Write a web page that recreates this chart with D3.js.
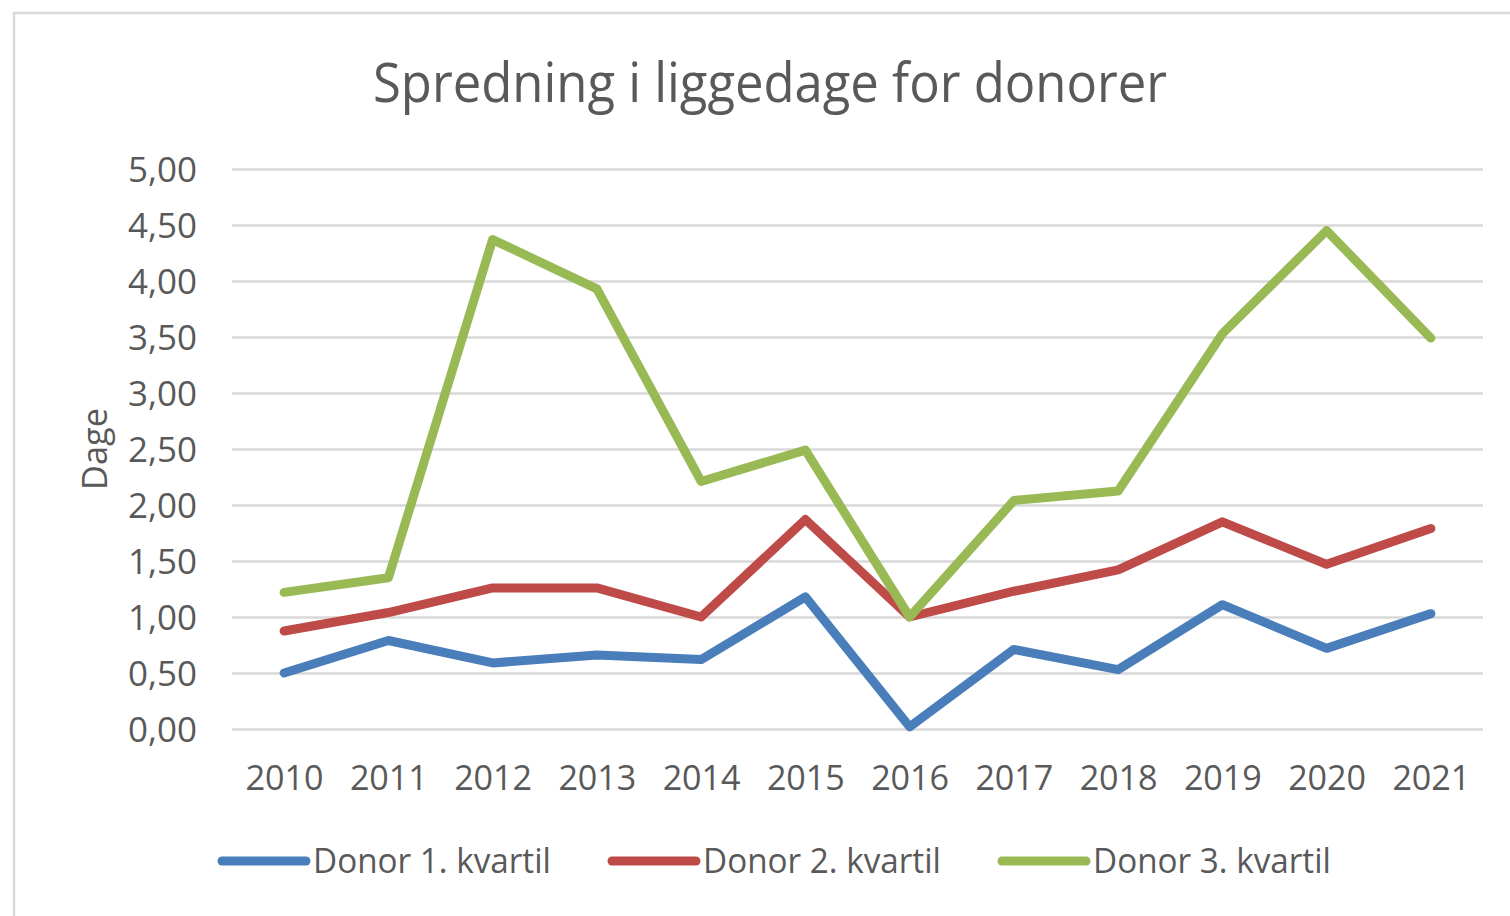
<!DOCTYPE html>
<html>
<head>
<meta charset="utf-8">
<script src="https://cdn.jsdelivr.net/npm/d3@7"></script>
<style>
  html, body { margin: 0; padding: 0; background: #fff; }
  svg { display: block; }
  text { font-family: "Open Sans", "Noto Sans", sans-serif; fill: #595959; }
</style>
</head>
<body>
<div id="chart"></div>
<script>
const years = [2010, 2011, 2012, 2013, 2014, 2015, 2016, 2017, 2018, 2019, 2020, 2021];
const donorQ1 = [0.50, 0.79, 0.59, 0.66, 0.62, 1.18, 0.02, 0.71, 0.53, 1.11, 0.72, 1.03];
const donorQ2 = [0.875, 1.04, 1.26, 1.26, 1.00, 1.87, 1.00, 1.23, 1.42, 1.85, 1.47, 1.79];
const donorQ3 = [1.22, 1.35, 4.37, 3.93, 2.21, 2.49, 1.00, 2.04, 2.125, 3.53, 4.45, 3.49];
const seriesNames = ['Donor 1. kvartil', 'Donor 2. kvartil', 'Donor 3. kvartil'];
const yTicks = [0, 0.5, 1, 1.5, 2, 2.5, 3, 3.5, 4, 4.5, 5];

const width = 1510;
const height = 916;
const plot = { left: 232, right: 1483, top: 169, bottom: 729 };
const colors = ['#4a7ebb', '#be4b48', '#98b954'];

const svg = d3.select('#chart').append('svg')
    .attr('width', width)
    .attr('height', height);

// chart frame (right and bottom edges fall outside the picture)
svg.append('rect')
    .attr('x', 14)
    .attr('y', 13)
    .attr('width', 1520)
    .attr('height', 940)
    .style('fill', '#fff')
    .style('stroke', '#d9d9d9')
    .style('stroke-width', 2.5);

const x = d3.scalePoint()
    .domain(years)
    .range([plot.left, plot.right])
    .padding(0.5);

const y = d3.scaleLinear()
    .domain([0, 5])
    .range([plot.bottom, plot.top]);

// gridlines + y labels
const yAxis = svg.append('g')
    .attr('transform', 'translate(' + plot.left + ',0)')
    .call(d3.axisLeft(y)
        .tickValues(yTicks)
        .tickSize(-(plot.right - plot.left))
        .tickPadding(35)
        .tickFormat(d => d.toFixed(2).replace('.', ',')));
yAxis.select('.domain').remove();
yAxis.selectAll('.tick line')
    .style('stroke', '#d9d9d9')
    .style('stroke-width', 2.5);
yAxis.selectAll('.tick text')
    .attr('dy', null)
    .attr('y', 12)
    .attr('x', -35)
    .attr('textLength', 69)
    .attr('lengthAdjust', 'spacingAndGlyphs')
    .style('font-size', '34px')
    .style('fill', '#595959');

// x labels
const xAxis = svg.append('g')
    .attr('transform', 'translate(0,' + plot.bottom + ')')
    .call(d3.axisBottom(x).tickSize(0).tickPadding(0));
xAxis.select('.domain').remove();
xAxis.selectAll('.tick text')
    .attr('dy', null)
    .attr('y', 61)
    .attr('textLength', 78)
    .attr('lengthAdjust', 'spacingAndGlyphs')
    .style('font-size', '35px')
    .style('fill', '#595959');

// title
svg.append('text')
    .attr('x', 770)
    .attr('y', 102)
    .attr('text-anchor', 'middle')
    .attr('textLength', 794)
    .attr('lengthAdjust', 'spacingAndGlyphs')
    .style('font-size', '55px')
    .text('Spredning i liggedage for donorer');

// axis title
svg.append('text')
    .attr('transform', 'translate(107,449) rotate(-90)')
    .attr('text-anchor', 'middle')
    .attr('textLength', 82)
    .attr('lengthAdjust', 'spacingAndGlyphs')
    .style('font-size', '35px')
    .text('Dage');

// lines
const line = d3.line()
    .x((d, i) => x(years[i]))
    .y(d => y(d));

[donorQ1, donorQ2, donorQ3].forEach((values, idx) => {
    svg.append('path')
        .datum(values)
        .attr('d', line)
        .style('fill', 'none')
        .style('stroke', colors[idx])
        .style('stroke-width', 9)
        .style('stroke-linejoin', 'round')
        .style('stroke-linecap', 'round');
});

// legend
const legendX = [222, 612, 1002];
const legend = svg.append('g');
seriesNames.forEach((name, idx) => {
    legend.append('line')
        .attr('x1', legendX[idx])
        .attr('x2', legendX[idx] + 84)
        .attr('y1', 861)
        .attr('y2', 861)
        .style('stroke', colors[idx])
        .style('stroke-width', 9)
        .style('stroke-linecap', 'round');
    legend.append('text')
        .attr('x', legendX[idx] + 91)
        .attr('y', 873)
        .attr('textLength', 238)
        .attr('lengthAdjust', 'spacingAndGlyphs')
        .style('font-size', '35px')
        .text(name);
});
</script>
</body>
</html>
